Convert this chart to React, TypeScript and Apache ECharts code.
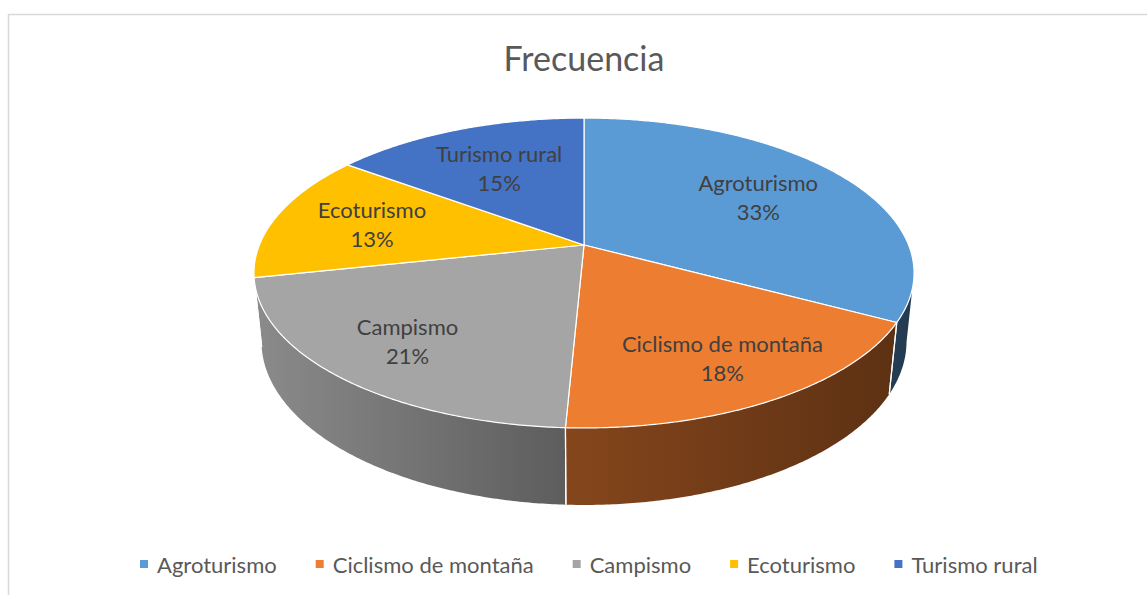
import React, { useEffect, useRef } from "react";
import * as echarts from "echarts";

// ---- data ----
const titleText = "Frecuencia";
const categories = ["Agroturismo", "Ciclismo de montaña", "Campismo", "Ecoturismo", "Turismo rural"];
const counts = [22, 12, 14, 9, 10];
const colors = ["#5B9BD5", "#ED7D31", "#A5A5A5", "#FFC000", "#4472C4"];

// ---- 3D pie geometry (layout) ----
const CX = 584;
const CY = 245;
const F = 1593.5;
const D0 = 4.909;
const ALPHA = (27.5 * Math.PI) / 180;
const DEPTH = 0.2395;
const SA = Math.sin(ALPHA);
const CA = Math.cos(ALPHA);
const VIS1 = 180 - (Math.acos(CA / D0) * 180) / Math.PI; // silhouette angles (deg)
const VIS2 = 360 - VIS1;

const FONT = "Lato, 'Open Sans', sans-serif";

function project(thetaDeg: number, r: number, h: number): number[] {
  const t = (thetaDeg * Math.PI) / 180;
  const x = r * Math.sin(t);
  const z = -r * Math.cos(t);
  const Y = z * SA - h * CA;
  const D = D0 - z * CA - h * SA;
  return [CX + (F * x) / D, CY + (F * Y) / D];
}

function arc(a: number, b: number, h: number): number[][] {
  const pts: number[][] = [];
  const n = Math.max(2, Math.ceil(Math.abs(b - a) / 0.5));
  for (let i = 0; i <= n; i++) pts.push(project(a + ((b - a) * i) / n, 1, h));
  return pts;
}

function shade(hex: string, f: number): string {
  const v = parseInt(hex.slice(1), 16);
  const r = Math.round(((v >> 16) & 255) * f);
  const g = Math.round(((v >> 8) & 255) * f);
  const b = Math.round((v & 255) * f);
  return `rgb(${r},${g},${b})`;
}

function wallFactor(deg: number): number {
  const t = Math.min(1, Math.max(0, (deg - 110) / 148));
  return 0.38 + 0.46 * Math.pow(t, 1.3);
}

export default function App() {
  const ref = useRef<HTMLDivElement>(null);

  useEffect(() => {
    if (!ref.current) return;
    const chart = echarts.init(ref.current, undefined, { renderer: "svg" });

    const total = counts.reduce((s, v) => s + v, 0);
    const starts: number[] = [];
    let acc = 0;
    counts.forEach((v) => {
      starts.push((acc / total) * 360);
      acc += v;
    });

    const seriesData = categories.map((name, i) => ({ name, value: counts[i] }));

    const renderWall = (params: any, api: any) => {
      const i = params.dataIndex;
      const a = starts[i];
      const b = a + (api.value(0) / total) * 360;
      const children: any[] = [];
      const lo = Math.max(a, VIS1);
      const hi = Math.min(b, VIS2);
      if (hi > lo) {
        const top = arc(lo, hi, 0);
        const bot = arc(hi, lo, -DEPTH);
        const pts = top.concat(bot);
        const xs = pts.map((p) => p[0]);
        const xmin = Math.min(...xs);
        const xmax = Math.max(...xs);
        children.push({
          type: "polygon",
          shape: { points: pts },
          style: {
            fill: new echarts.graphic.LinearGradient(
              xmin, 0, xmax, 0,
              [
                { offset: 0, color: shade(colors[i], wallFactor(hi)) },
                { offset: 1, color: shade(colors[i], wallFactor(lo)) },
              ],
              true
            ),
            stroke: "none",
          },
        });
        [a, b].forEach((edge) => {
          if (edge >= VIS1 && edge <= VIS2) {
            const p1 = project(edge, 1, 0);
            const p2 = project(edge, 1, -DEPTH);
            children.push({
              type: "line",
              shape: { x1: p1[0], y1: p1[1], x2: p2[0], y2: p2[1] },
              style: { stroke: "#ffffff", lineWidth: 1.2 },
              z2: 5,
            });
          }
        });
      }
      return { type: "group", children };
    };

    const renderTop = (params: any, api: any) => {
      const i = params.dataIndex;
      const a = starts[i];
      const sweep = (api.value(0) / total) * 360;
      const b = a + sweep;
      const pts = [project(0, 0, 0)].concat(arc(a, b, 0));
      const mid = a + sweep / 2;
      const lr = 0.7 - 0.07 * Math.cos((mid * Math.PI) / 180);
      const lp = project(mid, lr, 0);
      const pct = Math.round((api.value(0) / total) * 100);
      return {
        type: "group",
        children: [
          {
            type: "polygon",
            shape: { points: pts },
            style: { fill: colors[i], stroke: "#ffffff", lineWidth: 1.2, lineJoin: "round" },
          },
          {
            type: "text",
            x: lp[0],
            y: lp[1],
            z2: 20,
            style: {
              text: `${categories[i]}\n${pct}%`,
              fill: "#404040",
              font: `22px ${FONT}`,
              lineHeight: 29,
              align: "center",
              verticalAlign: "middle",
            },
          },
        ],
      };
    };

    chart.setOption({
      animation: false,
      backgroundColor: "#ffffff",
      title: {
        text: titleText,
        left: 579,
        top: 35,
        textAlign: "center",
        textStyle: { fontFamily: FONT, fontSize: 34, fontWeight: "normal", color: "#595959" },
      },
      legend: {
        left: 135,
        top: 548,
        icon: "rect",
        itemWidth: 8,
        itemHeight: 8,
        itemGap: 39,
        selectedMode: false,
        textStyle: { fontFamily: FONT, fontSize: 22, color: "#595959", padding: [0, 0, 0, 4] },
        data: categories,
      },
      graphic: [
        {
          type: "rect",
          shape: { x: 8.5, y: 14.5, width: 1200, height: 700 },
          style: { fill: "none", stroke: "#d9d9d9", lineWidth: 1.5 },
          silent: true,
        },
      ],
      series: [
        {
          type: "pie",
          name: "legendSource",
          radius: [0, 0],
          center: [CX, CY],
          silent: true,
          label: { show: false },
          labelLine: { show: false },
          data: categories.map((name, i) => ({ name, value: counts[i], itemStyle: { color: colors[i] } })),
        },
        {
          type: "custom",
          name: "walls",
          coordinateSystem: "none",
          silent: true,
          z: 2,
          renderItem: renderWall,
          data: seriesData,
        },
        {
          type: "custom",
          name: "tops",
          coordinateSystem: "none",
          silent: true,
          z: 3,
          renderItem: renderTop,
          data: seriesData,
        },
      ],
    });

    return () => chart.dispose();
  }, []);

  return (
    <div
      ref={ref}
      style={{ position: "absolute", left: 0, top: 0, width: 1147, height: 595, background: "#fff" }}
    />
  );
}
